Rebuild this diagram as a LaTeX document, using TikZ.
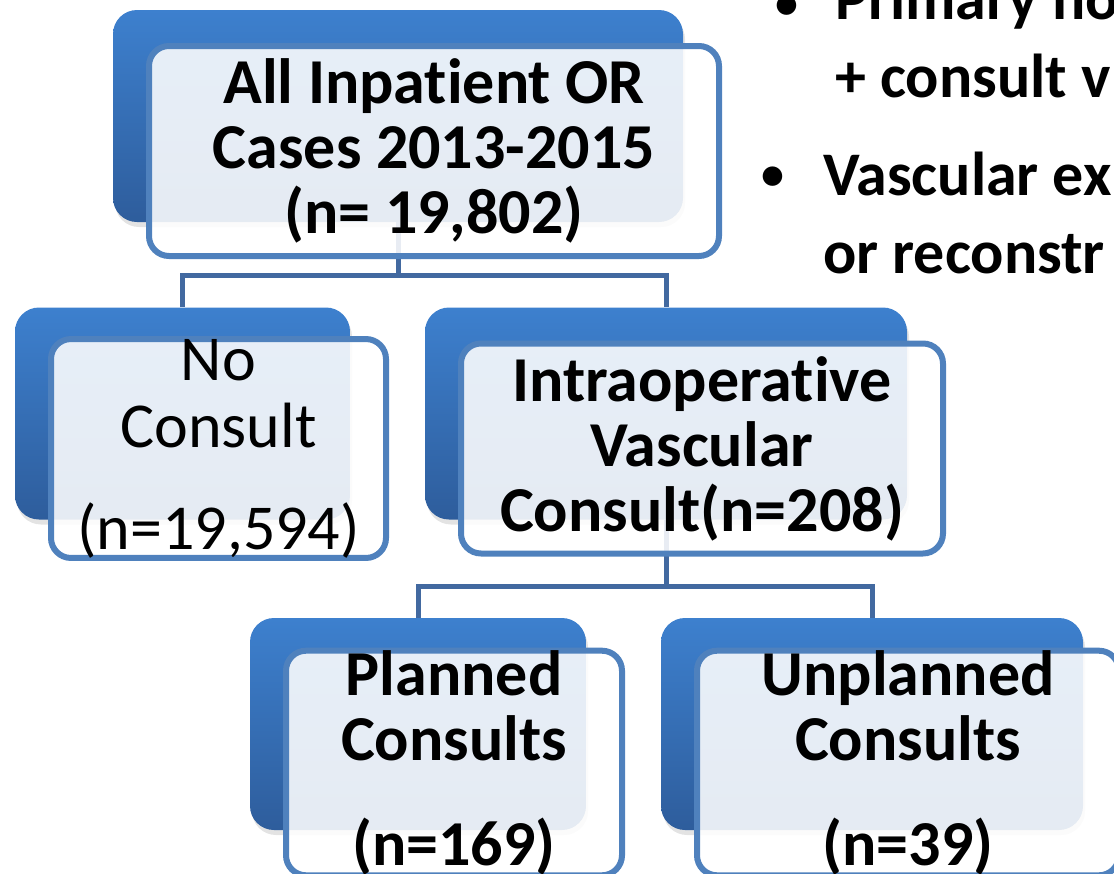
\documentclass[tikz,border=0pt]{standalone}
\usepackage{fontspec}
\setmainfont{Carlito}[Ligatures=NoCommon]
\usetikzlibrary{positioning, shadows}
\definecolor{boxtop}{RGB}{61,128,206}
\definecolor{boxbottom}{RGB}{46,93,156}
\definecolor{frameblue}{RGB}{79,129,189}
\definecolor{linkblue}{RGB}{66,105,160}

\begin{document}
\begin{tikzpicture}[x=1pt, y=1pt, node distance=300pt, on grid,
    back/.style={rectangle, rounded corners=24pt, top color=boxtop, bottom color=boxbottom,
        minimum height=212pt, drop shadow={shadow xshift=2pt, shadow yshift=-5pt, opacity=0.22}},
    front/.style={rectangle, rounded corners=20pt, draw=frameblue, line width=6pt,
        fill=white, fill opacity=0.88, text opacity=1, draw opacity=1, minimum height=210pt,
        inner sep=0pt, align=center, font=\fontsize{64}{65}\selectfont\bfseries},
    link/.style={draw=linkblue, line width=5pt},
    bullettext/.style={inner sep=0pt, align=left, font=\fontsize{62}{78}\selectfont\bfseries},
    bulletdot/.style={inner sep=0pt, font=\fontsize{46}{46}\selectfont\bfseries}]
    \useasboundingbox (0,0) rectangle (1114,-873);

    % blue back boxes
    \node[back, minimum width=570pt] (allcases) at (398,-116) {};
    \node[back, minimum width=335pt] (noconsult) [below left=297.5pt and 215.5pt of allcases] {};
    \node[back, minimum width=482pt] (vascular) [below right=297.5pt and 268pt of allcases] {};
    \node[back, minimum width=336pt] (planned) [below left=310.5pt and 248pt of vascular] {};
    \node[back, minimum width=422pt] (unplanned) [below right=310.5pt and 206pt of vascular] {};

    % tree lines
    \draw[link] (allcases.south) -- ++(0,-53) coordinate (splitone) -| (noconsult.north)
        (splitone) -| (vascular.north);
    \draw[link] (vascular.south) -- ++(0,-67) coordinate (splittwo) -| (planned.north)
        (splittwo) -| (unplanned.north);

    % white front boxes
    \node[front, minimum width=570pt] (allcasesfront) [below right=35pt and 36pt of allcases]
        {All Inpatient OR\\Cases 2013-2015\\(n= 19,802)};
    \node[front, minimum width=335pt, font=\fontsize{64}{67}\selectfont] (noconsultfront)
        [below right=35pt and 36pt of noconsult] {No\\Consult\\[35pt](n=19,594)};
    \node[front, minimum width=482pt, font=\fontsize{64}{65}\selectfont\bfseries] (vascularfront)
        [below right=35pt and 36pt of vascular] {Intraoperative\\Vascular\\Consult(n=208)};
    \node[front, minimum width=336pt, yshift=-4pt] (plannedfront) [below right=35pt and 36pt of planned]
        {Planned\\Consults\\[40pt](n=169)};
    \node[front, minimum width=422pt, yshift=-4pt] (unplannedfront) [below right=35pt and 36pt of unplanned]
        {Unplanned\\Consults\\[40pt](n=39)};

    % bullet list at the top right
    \node[bulletdot, anchor=base] (bulletone) at (787,-18) {\textbullet};
    \node[bullettext, anchor=base west] (itemone) at (835,-97) {Primary ho\\+ consult v};
    \node[bulletdot, anchor=base] (bullettwo) at (773,-189) {\textbullet};
    \node[bullettext, anchor=base west] (itemtwo) at (823,-273) {Vascular ex\\or reconstr};
\end{tikzpicture}
\end{document}
